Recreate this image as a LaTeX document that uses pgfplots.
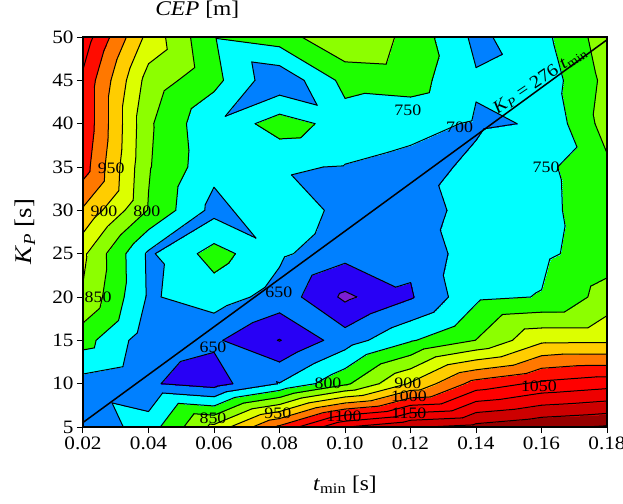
\documentclass[border=0pt]{standalone}
\usepackage{fontspec}
\setmainfont{Liberation Serif}[FakeStretch=1.12]
\usepackage{pgfplots}
\usepackage{pgfplotstable}
\pgfplotsset{compat=1.18}

\pgfplotstableread{
x y z
0.02 5 660
0.04 5 725
0.06 5 864
0.08 5 1010
0.10 5 1148
0.12 5 1195
0.14 5 1215
0.16 5 1240
0.18 5 1255
0.02 10 680
0.04 10 655
0.06 10 629
0.08 10 702
0.10 10 790
0.12 10 905
0.14 10 1020
0.16 10 1061
0.18 10 1080
0.02 15 770
0.04 15 670
0.06 15 658
0.08 15 598
0.10 15 675
0.12 15 745
0.14 15 801
0.16 15 889
0.18 15 890
0.02 20 845
0.04 20 694
0.06 20 725
0.08 20 680
0.10 20 590
0.12 20 645
0.14 20 740
0.16 20 752
0.18 20 820
0.02 25 860
0.04 25 692
0.06 25 770
0.08 25 709
0.10 25 667
0.12 25 660
0.14 25 730
0.16 25 740
0.18 25 775
0.02 30 944
0.04 30 797
0.06 30 684
0.08 30 739
0.10 30 682
0.12 30 675
0.14 30 720
0.16 30 736
0.18 30 780
0.02 35 1024
0.04 35 804
0.06 35 714
0.08 35 704
0.10 35 698
0.12 35 685
0.14 35 708
0.16 35 737
0.18 35 790
0.02 40 1040
0.04 40 808
0.06 40 708
0.08 40 775
0.10 40 729
0.12 40 715
0.14 40 695
0.16 40 703
0.18 40 822
0.02 45 1040
0.04 45 829
0.06 45 765
0.08 45 661
0.10 45 765
0.12 45 772
0.14 45 705
0.16 45 718
0.18 45 814
0.02 50 1080
0.04 50 884
0.06 50 753
0.08 50 776
0.10 50 847
0.12 50 785
0.14 50 688
0.16 50 735
0.18 50 827
}\cepdata

% ---- grid values -> triangles (for the filled contours) and contour lines
\pgfplotstableforeachcolumnelement{x}\of\cepdata\as\cell{%
  \expandafter\xdef\csname cx@\pgfplotstablerow\endcsname{\cell}}
\pgfplotstableforeachcolumnelement{y}\of\cepdata\as\cell{%
  \expandafter\xdef\csname cy@\pgfplotstablerow\endcsname{\cell}}
\pgfplotstableforeachcolumnelement{z}\of\cepdata\as\cell{%
  \expandafter\xdef\csname cv@\pgfplotstablerow\endcsname{\cell}}
\def\gx#1#2{\csname cx@\the\numexpr(#2)*9+(#1)\relax\endcsname}
\def\gy#1#2{\csname cy@\the\numexpr(#2)*9+(#1)\relax\endcsname}
\def\gv#1#2{\csname cv@\the\numexpr(#2)*9+(#1)\relax\endcsname}
% cells split along the other diagonal
\expandafter\def\csname bltr@1@4\endcsname{}
\expandafter\def\csname bltr@2@7\endcsname{}
\expandafter\def\csname bltr@5@6\endcsname{}
\gdef\contourcmds{}
\gdef\trilist{}
\newcount\npts
\def\docross#1#2#3#4#5#6{%
  \pgfmathsetmacro\tfrac{(\clev-#3)/(#6-#3)}%
  \pgfmathsetmacro\px{0.02+0.02*(#1+\tfrac*(#4-#1))}%
  \pgfmathsetmacro\py{5+5*(#2+\tfrac*(#5-#2))}%
  \edef\segpts{\segpts(\px,\py) }%
  \global\advance\npts by 1 }
\def\edgecross#1#2#3#4#5#6{%
  \ifdim#3pt<\clev pt
    \ifdim#6pt>\clev pt \docross{#1}{#2}{#3}{#4}{#5}{#6}\fi
  \else
    \ifdim#6pt<\clev pt \docross{#1}{#2}{#3}{#4}{#5}{#6}\fi
  \fi}
\def\dotri#1#2#3#4#5#6{%
  \edef\va{\gv{#1}{#2}}\edef\vb{\gv{#3}{#4}}\edef\vc{\gv{#5}{#6}}%
  \def\segpts{}\global\npts=0
  \edgecross{#1}{#2}{\va}{#3}{#4}{\vb}%
  \edgecross{#3}{#4}{\vb}{#5}{#6}{\vc}%
  \edgecross{#5}{#6}{\vc}{#1}{#2}{\va}%
  \ifnum\npts=2
    \xdef\contourcmds{\unexpanded\expandafter{\contourcmds}%
      \noexpand\addplot[cline] coordinates {\segpts};}%
  \fi}
\def\addtri#1#2#3#4#5#6{%
  \xdef\trilist{\trilist(\gx{#1}{#2},\gy{#1}{#2}) [\gv{#1}{#2}] %
    (\gx{#3}{#4},\gy{#3}{#4}) [\gv{#3}{#4}] (\gx{#5}{#6},\gy{#5}{#6}) [\gv{#5}{#6}] }}
\foreach \jj in {0,...,8}{%
 \foreach \ii in {0,...,7}{%
  \edef\ip{\the\numexpr\ii+1\relax}%
  \edef\jp{\the\numexpr\jj+1\relax}%
  \ifcsname bltr@\ii @\jj\endcsname
    \edef\triA{{\ii}{\jj}{\ip}{\jj}{\ip}{\jp}}%
    \edef\triB{{\ii}{\jj}{\ip}{\jp}{\ii}{\jp}}%
  \else
    \edef\triA{{\ii}{\jj}{\ip}{\jj}{\ii}{\jp}}%
    \edef\triB{{\ip}{\jj}{\ip}{\jp}{\ii}{\jp}}%
  \fi
  \expandafter\addtri\triA
  \expandafter\addtri\triB
  \foreach \clev in {600,650,...,1250}{%
    \expandafter\dotri\triA
    \expandafter\dotri\triB
  }}}
\edef\drawfill{\noexpand\addplot[patch, patch type=triangle, shader=interp,
  point meta=explicit, forget plot] coordinates {\trilist};}

\begin{document}
\begin{tikzpicture}
\begin{axis}[
  scale only axis, width=524bp, height=390bp,
  xmin=0.02, xmax=0.18, ymin=5, ymax=50,
  xtick={0.02,0.04,0.06,0.08,0.10,0.12,0.14,0.16,0.18},
  ytick={5,10,15,20,25,30,35,40,45,50},
  /pgf/number format/assume math mode=true,
  xticklabel style={/pgf/number format/.cd, fixed, fixed zerofill, precision=2},
  tick label style={font=\fontsize{19}{19}\selectfont},
  tick align=outside, xtick pos=left, ytick pos=left,
  major tick length=6bp,
  every tick/.style={black, line width=1bp},
  axis line style={line width=1.3bp},
  axis on top,
  cline/.style={black, line width=1bp, line cap=round, forget plot},
  colormap={cep}{rgb255=(125,30,210) rgb255=(40,0,245) rgb255=(0,128,255)
    rgb255=(0,255,255) rgb255=(30,255,0) rgb255=(140,255,0) rgb255=(220,255,0)
    rgb255=(255,205,0) rgb255=(255,120,0) rgb255=(255,12,0) rgb255=(255,0,0)
    rgb255=(238,0,0) rgb255=(205,0,0) rgb255=(150,0,0)},
  colormap access=piecewise constant,
  point meta min=550, point meta max=1250,
  xlabel={\textit{t}\textsubscript{min} [s]},
  xlabel style={at={(axis description cs:0.5,-0.1487)}, anchor=center,
    font=\fontsize{21}{21}\selectfont},
  ylabel={\textit{K}\textsubscript{\textit{P}} [s]},
  ylabel style={at={(axis description cs:-0.1107,0.5)}, anchor=center,
    font=\fontsize{24}{24}\selectfont},
  title={\textit{CEP} [m]},
  title style={at={(axis description cs:0.218,1.054)}, anchor=center,
    font=\fontsize{21}{21}\selectfont},
]
\drawfill
\contourcmds
\addplot[black, line width=1.5bp] coordinates {(0.02,5.52) (0.18,49.68)};
\node[rotate=34, anchor=center, inner sep=0pt, font=\fontsize{18}{18}\selectfont]
  at (axis cs:0.1595,45.0) {\textit{K}\textsubscript{\textit{P}} = 276 \textit{t}\textsubscript{min}};
\begin{scope}[every node/.style={font=\fontsize{16}{16}\selectfont, inner sep=0pt}]
\node at (axis cs:0.0286,34.9) {950};
\node at (axis cs:0.0264,29.9) {900};
\node at (axis cs:0.0395,29.9) {800};
\node at (axis cs:0.0246,20.0) {850};
\node at (axis cs:0.1192,41.6) {750};
\node at (axis cs:0.1350,39.6) {700};
\node at (axis cs:0.1614,35.0) {750};
\node at (axis cs:0.0798,20.6) {650};
\node at (axis cs:0.0597,14.2) {650};
\node at (axis cs:0.0948,10.1) {800};
\node at (axis cs:0.1192,10.1) {900};
\node at (axis cs:0.1195,8.6) {1000};
\node at (axis cs:0.1592,9.7) {1050};
\node at (axis cs:0.0597,6.0) {850};
\node at (axis cs:0.0795,6.6) {950};
\node at (axis cs:0.0997,6.2) {1100};
\node at (axis cs:0.1195,6.6) {1150};
\end{scope}
\end{axis}
\pgfresetboundingbox
\path (current axis.south west) ++(-83bp,-77bp) rectangle ++(623bp,504bp);
\end{tikzpicture}
\end{document}
